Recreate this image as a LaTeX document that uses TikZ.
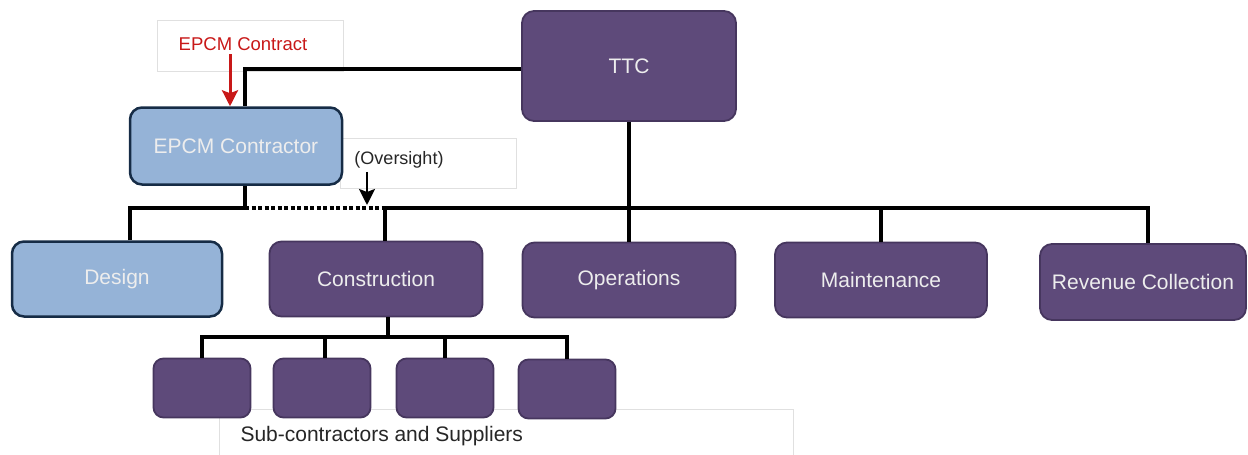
\documentclass[tikz,border=0pt]{standalone}
\usepackage{fontspec}
\setmainfont{Liberation Sans}
\usetikzlibrary{arrows.meta}
\definecolor{ttcpurple}{RGB}{94,74,122}
\definecolor{ttcedge}{RGB}{70,54,94}
\definecolor{epcmblue}{RGB}{149,179,215}
\definecolor{epcmedge}{RGB}{22,44,70}
\definecolor{contractred}{RGB}{200,24,24}
\definecolor{notegray}{RGB}{224,224,224}

\begin{document}
\begin{tikzpicture}[x=1pt,y=-1pt,
  org/.style={draw=ttcedge, fill=ttcpurple, line width=1.8pt, rounded corners=12pt,
    text=white!93!black, font=\fontsize{21}{24}\selectfont,
    minimum width=212pt, minimum height=75pt},
  epcmbox/.style={org, draw=epcmedge, fill=epcmblue, line width=2.5pt},
  subbox/.style={org, minimum width=97pt, minimum height=59pt, rounded corners=10pt},
  notetext/.style={font=\fontsize{18}{21}\selectfont},
  notebox/.style={draw=notegray, line width=0.8pt},
  link/.style={line width=3.2pt},
  tip/.style={-{Stealth[length=16pt,width=16pt,inset=3pt]}, line width=3pt}]
\useasboundingbox (0,0) rectangle (1248,455);

% note boxes
\draw[notebox] (157,20) rectangle (343,71);
\draw[notebox] (340,138) rectangle (516,188);
\draw[notebox] (219,460) -- (219,409) -- (793,409) -- (793,460);
\node[notetext, font=\fontsize{18.5}{21}\selectfont, text=contractred] (contract) at (243,44) {EPCM Contract};
\node[notetext, text=black!85] (oversight) at (399,160) {(Oversight)};
\node[anchor=west, font=\fontsize{21}{24}\selectfont, text=black!85] (suppliers) at (237,436) {Sub-contractors and Suppliers};

% boxes
\node[org, minimum width=214pt, minimum height=110pt] (ttc) at (629,66) {TTC};
\node[epcmbox, minimum height=77pt] (epcm) at (236,146) {EPCM Contractor};
\node[epcmbox, minimum width=210pt] (design) at (117,279) {Design};
\node[org, minimum width=213pt] (construction) at (376,279) {Construction};
\node[org, minimum width=213pt] (operations) at (629,280) {Operations};
\node[org] (maintenance) at (881,280) {Maintenance};
\node[org, minimum width=206pt, minimum height=76pt] (revenue) at (1143,282) {Revenue Collection};
\node[subbox] (sub1) at (202,388) {};
\node[subbox] (sub2) at (322,388) {};
\node[subbox] (sub3) at (445,388) {};
\node[subbox] (sub4) at (567,389) {};

% connectors
\coordinate (bus) at (0,208);
\coordinate (subbus) at (0,337);
\coordinate (epcmtop) at ([xshift=9pt]epcm.north);
\coordinate (epcmbot) at ([xshift=9pt]epcm.south);
\coordinate (dsgtop) at ([xshift=13pt]design.north);
\coordinate (constop) at ([xshift=9pt]construction.north);
\coordinate (revtop) at ([xshift=5pt]revenue.north);
\coordinate (constbot) at ([xshift=12pt]construction.south);
\coordinate (contractin) at ([xshift=-6pt]epcm.north);
\coordinate (ovtip) at (367,205);

\draw[link] (ttc.west |- 0,69) -| (epcmtop);
\draw[link] (dsgtop) |- (epcmbot |- bus) -- (epcmbot);
\draw[line width=4pt, dash pattern=on 4pt off 2.5pt] (epcmbot |- bus) -- (constop |- bus);
\draw[link] (constop) |- (revtop |- bus) -- (revtop);
\draw[link] (ttc) -- (operations);
\draw[link] (maintenance.north) -- (maintenance.north |- bus);
\draw[link] (constbot) -- (constbot |- subbus);
\draw[link] (sub1.north) |- (sub4.north |- subbus) -- (sub4.north);
\draw[link] ([xshift=3pt]sub2.north) -- ([xshift=3pt]sub2.north |- subbus);
\draw[link] (sub3.north) -- (sub3.north |- subbus);

\draw[tip, contractred] (contract.south -| contractin) -- (contractin);
\draw[tip, line width=2.5pt] (oversight.south -| ovtip) -- (ovtip);
\end{tikzpicture}
\end{document}
